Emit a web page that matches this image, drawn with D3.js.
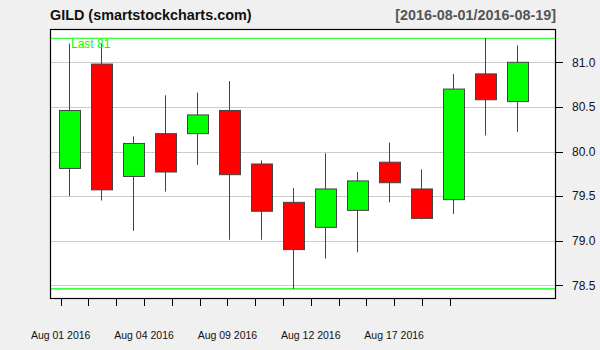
<!DOCTYPE html>
<html><head><meta charset="utf-8">
<script src="https://cdn.jsdelivr.net/npm/d3@7/dist/d3.min.js"></script>
<style>html,body{margin:0;padding:0;background:#f0f0f0;}svg{display:block;font-family:"Liberation Sans",Arial,sans-serif;}</style>
</head><body>
<script>
const dates = ["2016-08-01","2016-08-02","2016-08-03","2016-08-04","2016-08-05","2016-08-08","2016-08-09","2016-08-10","2016-08-11","2016-08-12","2016-08-15","2016-08-16","2016-08-17","2016-08-18","2016-08-19"];
const openV  = [79.81,80.98,79.72,80.20,80.20,80.46,79.86,79.43,79.15,79.34,79.88,79.58,79.46,80.87,80.56];
const highV  = [81.21,81.21,80.17,80.63,80.66,80.79,79.90,79.59,79.98,79.77,80.10,79.80,80.87,81.27,81.19];
const lowV   = [79.50,79.45,79.11,79.55,79.85,79.01,79.01,78.46,78.80,78.87,79.43,79.24,79.30,80.18,80.22];
const closeV = [80.46,79.57,80.09,79.77,80.41,79.74,79.33,78.90,79.58,79.67,79.65,79.25,80.70,80.58,81.00];
const yTicks = [78.5,79.0,79.5,80.0,80.5,81.0];
const xLabelDates = ["2016-08-01","2016-08-04","2016-08-09","2016-08-12","2016-08-17"];
const title = "GILD (smartstockcharts.com)";
const rangeText = "[2016-08-01/2016-08-19]";

const W=600,H=350;
const L=50,R=556,T=29,B=299;
const svg=d3.select("body").append("svg").attr("width",W).attr("height",H);
svg.append("rect").attr("width",W).attr("height",H).attr("fill","#f0f0f0");
svg.append("rect").attr("x",L).attr("y",T).attr("width",R-L).attr("height",B-T).attr("fill","#fff");

const y=d3.scaleLinear().domain([78.5,81]).range([285.3,62.3]);
const x=d3.scalePoint().domain(dates).range([69.3,517]);
const xt=d3.scalePoint().domain(dates).range([60.7,449.7]);
const bw=21;

// grid
svg.append("g").selectAll("line").data(yTicks).join("line")
  .attr("x1",L).attr("x2",R).attr("y1",d=>Math.round(y(d))+0.5).attr("y2",d=>Math.round(y(d))+0.5)
  .attr("stroke","#cccccc").attr("stroke-width",1);

// range lines
const maxH=d3.max(highV), minL=d3.min(lowV);
[maxH,minL].forEach(v=>{
  svg.append("line").attr("x1",L).attr("x2",R).attr("y1",y(v)).attr("y2",y(v))
    .attr("stroke","#00ff00").attr("stroke-width",1.1);
});

const data=dates.map((d,i)=>({d,o:openV[i],h:highV[i],l:lowV[i],c:closeV[i]}));
const g=svg.append("g");
g.selectAll(".wick").data(data).join("line")
  .attr("x1",d=>Math.round(x(d.d))+0.5).attr("x2",d=>Math.round(x(d.d))+0.5)
  .attr("y1",d=>y(d.h)).attr("y2",d=>y(d.l))
  .attr("stroke","#444").attr("stroke-width",1);
g.selectAll(".body").data(data).join("rect")
  .attr("x",d=>Math.round(x(d.d)-bw/2)+0.5)
  .attr("y",d=>y(Math.max(d.o,d.c)))
  .attr("width",bw)
  .attr("height",d=>Math.abs(y(d.o)-y(d.c)))
  .attr("fill",d=>d.c>=d.o?"#00ff00":"#ff0000")
  .attr("stroke","#444").attr("stroke-width",1);

// last label
svg.append("text").attr("x",71).attr("y",48).attr("font-size",12).attr("fill","#00ff00")
  .text("Last "+d3.format("")(closeV[closeV.length-1]));

// border
svg.append("rect").attr("x",L+0.5).attr("y",T+0.5).attr("width",R-L-1).attr("height",B-T-1)
  .attr("fill","none").attr("stroke","#000").attr("stroke-width",1.2);

// y axis
const ya=svg.append("g");
ya.selectAll("line").data(yTicks).join("line")
  .attr("x1",R).attr("x2",R+7).attr("y1",d=>Math.round(y(d))+0.5).attr("y2",d=>Math.round(y(d))+0.5)
  .attr("stroke","#000");
ya.selectAll("text").data(yTicks).join("text")
  .attr("x",572).attr("y",d=>y(d)).attr("dy","0.35em").attr("font-size",12).attr("fill","#111122")
  .text(d=>d3.format(".1f")(d));

// x axis
const xa=svg.append("g");
xa.selectAll("line").data(dates).join("line")
  .attr("x1",d=>Math.round(xt(d))+0.5).attr("x2",d=>Math.round(xt(d))+0.5).attr("y1",B).attr("y2",B+7)
  .attr("stroke","#000");
const fmt=d3.timeFormat("%b %d %Y"), parse=d3.timeParse("%Y-%m-%d");
xa.selectAll("text").data(xLabelDates).join("text")
  .attr("x",d=>xt(d)).attr("y",339).attr("text-anchor","middle").attr("font-size",10.5).attr("fill","#111")
  .text(d=>fmt(parse(d)));

// titles
svg.append("text").attr("x",L).attr("y",19.5).attr("font-size",14.4).attr("font-weight","bold").attr("fill","#111").text(title);
svg.append("text").attr("x",R).attr("y",19.5).attr("text-anchor","end").attr("font-size",14.4).attr("font-weight","bold").attr("fill","#555").text(rangeText);
</script>
</body></html>
